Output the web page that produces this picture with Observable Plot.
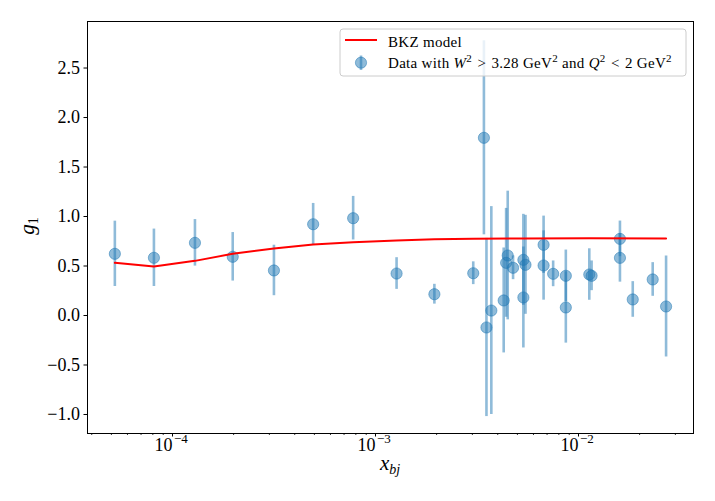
<!DOCTYPE html>
<html><head><meta charset="utf-8">
<script src="https://cdn.jsdelivr.net/npm/d3@7"></script>
<script src="https://cdn.jsdelivr.net/npm/@observablehq/plot@0.6"></script>
<style>
body{margin:0;background:#fff;}
#chart{position:relative;width:715px;height:501px;}
</style></head><body><div id="chart"></div>
<script>
// Data points (x_bj, g1, error)
const xbj   = [5.2e-5, 8.1e-5, 1.29e-4, 1.98e-4, 3.16e-4, 4.93e-4, 7.76e-4, 1.27e-3, 1.95e-3,
               3.03e-3, 3.42e-3, 3.52e-3, 3.72e-3, 4.28e-3, 4.40e-3, 4.48e-3, 4.76e-3, 5.35e-3, 5.35e-3,
               5.48e-3, 6.73e-3, 6.73e-3, 7.5e-3, 8.66e-3, 8.66e-3, 1.13e-2, 1.16e-2, 1.6e-2, 1.6e-2,
               1.85e-2, 2.32e-2, 2.7e-2];
const g1    = [0.623, 0.583, 0.734, 0.593, 0.455, 0.922, 0.983, 0.424, 0.215,
               0.427, 1.795, -0.121, 0.05, 0.152, 0.532, 0.606, 0.482, 0.562, 0.182,
               0.512, 0.714, 0.505, 0.421, 0.401, 0.081, 0.414, 0.401, 0.774, 0.582,
               0.162, 0.364, 0.091];
const g1err = [0.33, 0.29, 0.235, 0.245, 0.255, 0.21, 0.22, 0.16, 0.10,
               0.115, 0.98, 0.90, 1.05, 0.53, 0.55, 0.65, 0.12, 0.46, 0.51,
               0.50, 0.29, 0.35, 0.13, 0.26, 0.36, 0.26, 0.15, 0.18, 0.245,
               0.18, 0.17, 0.51];
// BKZ model curve
const modelX  = [5.2e-5, 8.1e-5, 1.29e-4, 1.98e-4, 3.16e-4, 4.93e-4, 7.76e-4, 1.27e-3, 1.95e-3, 3.03e-3, 5.35e-3, 1.13e-2, 2.7e-2];
const modelG1 = [0.532, 0.495, 0.552, 0.623, 0.677, 0.717, 0.740, 0.758, 0.771, 0.776, 0.778, 0.780, 0.779];
// Ticks
const majorX = [1e-4, 1e-3, 1e-2];
const majorExp = ["−4", "−3", "−2"];
const yTicks = [-1, -0.5, 0, 0.5, 1, 1.5, 2, 2.5];

const data = xbj.map((x, i) => ({x, y: g1[i], e: g1err[i]}));
const model = modelX.map((x, i) => ({x, y: modelG1[i]}));
const xDomain = [3.813e-5, 0.03685];
const minorX = [];
for (const d of [1e-5, 1e-4, 1e-3, 1e-2]) for (let k = 2; k <= 9; k++) { const v = k * d; if (v > xDomain[0] && v < xDomain[1]) minorX.push(v); }

const font = "'Liberation Serif', 'DejaVu Serif', serif";
const blue = "#1f77b4";

const plot = Plot.plot({
  width: 715, height: 501,
  marginLeft: 87, marginRight: 22, marginTop: 21, marginBottom: 68,
  style: {fontFamily: font, background: "white", overflow: "visible", color: "black"},
  x: {type: "log", domain: xDomain, label: null},
  y: {domain: [-1.192, 2.97], label: null},
  marks: [
    Plot.axisX({ticks: minorX, tickSize: 2, tickFormat: () => "", strokeWidth: 0.8, label: null}),
    Plot.axisX({ticks: majorX, tickSize: 3.5, tickFormat: () => "", label: null}),
    Plot.text(majorX, {x: d => d, text: () => "10", frameAnchor: "bottom", textAnchor: "end", lineAnchor: "bottom", dy: 17, dx: 0, fontSize: 18}),
    Plot.text(majorX, {x: d => d, text: (d, i) => majorExp[i], frameAnchor: "bottom", textAnchor: "start", lineAnchor: "bottom", dy: 9.5, dx: 1.5, fontSize: 13}),
    Plot.axisY({ticks: yTicks, tickSize: 3.5, tickPadding: 4, fontSize: 18, label: null, tickFormat: d => d.toFixed(1).replace("-", "−")}),
    Plot.ruleX(data, {x: "x", y1: d => d.y - d.e, y2: d => d.y + d.e, stroke: blue, strokeOpacity: 0.5, strokeWidth: 2.6}),
    Plot.dot(data, {x: "x", y: "y", r: 5.6, fill: blue, fillOpacity: 0.5, stroke: blue, strokeOpacity: 0.5, strokeWidth: 1}),
    Plot.line(model, {x: "x", y: "y", stroke: "red", strokeWidth: 2}),
    Plot.frame({stroke: "black", strokeWidth: 1})
  ]
});

const svg = d3.select(plot);
// Axis labels
const yl = svg.append("text").attr("transform", "translate(34,226) rotate(-90)")
  .attr("text-anchor", "middle").attr("font-size", 21).attr("font-family", font).attr("fill", "black");
yl.append("tspan").attr("font-style", "italic").text("g");
yl.append("tspan").attr("font-size", 14).attr("dy", 4).text("1");
const xl = svg.append("text").attr("x", 390).attr("y", 470)
  .attr("text-anchor", "middle").attr("font-size", 21).attr("font-family", font).attr("fill", "black");
xl.append("tspan").attr("font-style", "italic").text("x");
xl.append("tspan").attr("font-style", "italic").attr("font-size", 14).attr("dy", 4).text("bj");

// Legend
const lg = svg.append("g").attr("font-family", font).attr("font-size", 15).attr("fill", "black").attr("text-anchor", "start");
lg.append("rect").attr("x", 340).attr("y", 29).attr("width", 346).attr("height", 47).attr("rx", 3)
  .attr("fill", "white").attr("fill-opacity", 0.8).attr("stroke", "#cccccc").attr("stroke-width", 1);
lg.append("line").attr("x1", 345).attr("x2", 377).attr("y1", 40).attr("y2", 40).attr("stroke", "red").attr("stroke-width", 2);
lg.append("line").attr("x1", 361).attr("x2", 361).attr("y1", 55.5).attr("y2", 70).attr("stroke", blue).attr("stroke-opacity", 0.5).attr("stroke-width", 2.6);
lg.append("circle").attr("cx", 361).attr("cy", 62.7).attr("r", 5.6).attr("fill", blue).attr("fill-opacity", 0.5).attr("stroke", blue).attr("stroke-opacity", 0.5);
lg.append("text").attr("x", 388).attr("y", 46.5).attr("letter-spacing", 0.3).text("BKZ model");
const t2 = lg.append("text").attr("x", 388).attr("y", 67.5).attr("letter-spacing", 0.3);
const sup = (s) => { t2.append("tspan").attr("font-size", 11).attr("dy", -5.5).text(s); };
const norm = (s) => { t2.append("tspan").attr("dy", 5.5).text(s); };
t2.append("tspan").text("Data with ");
t2.append("tspan").attr("font-style", "italic").text("W");
sup("2");
norm("\u2004>\u20043.28 GeV");
sup("2");
norm(" and ");
t2.append("tspan").attr("font-style", "italic").text("Q");
sup("2");
norm("\u2004<\u20042 GeV");
sup("2");

document.getElementById("chart").appendChild(plot);
</script></body></html>
